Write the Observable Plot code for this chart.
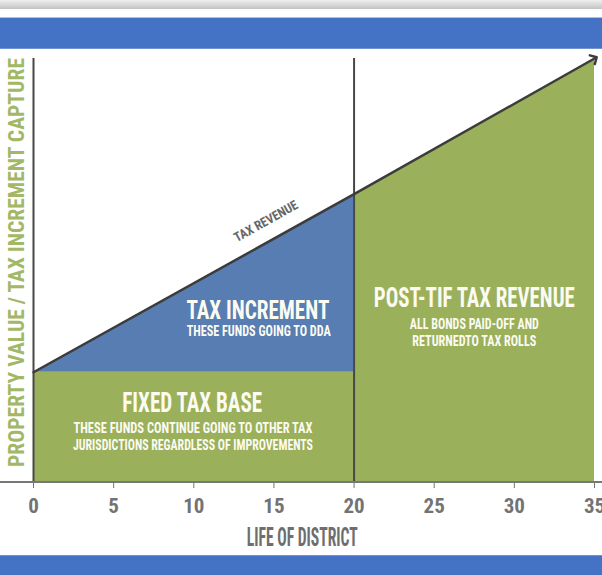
<!DOCTYPE html>
<html><head><meta charset="utf-8">
<script src="https://cdn.jsdelivr.net/npm/d3@7"></script>
<script src="https://cdn.jsdelivr.net/npm/@observablehq/plot@0.6"></script>
<style>
html,body{margin:0;padding:0;background:#fff;width:602px;height:575px;overflow:hidden;}
.chrome{height:9px;background:linear-gradient(#efefef,#c3c3c3);}
.gap{height:8px;}
.bar{background:#4472c4;}
.top{height:32px;border-top:1px solid #a9c0e6;border-bottom:1px solid #6f93d3;box-sizing:border-box;}
.bottom{height:20px;border-top:1px solid #6f93d3;box-sizing:border-box;}
#chart{height:506px;}
#chart svg{display:block;}
</style></head><body>
<div class="chrome"></div><div class="gap"></div><div class="bar top"></div>
<div id="chart"></div>
<div class="bar bottom"></div>
<script>
// ---- data ----
const years = [0, 20, 35];            // life of district breakpoints
const taxRevenue = [26, 68, 100];     // tax revenue line at those years
const baseValue = 26;                 // fixed tax base level
const tifEnd = 20;                    // end of TIF period
const xTicks = [0, 5, 10, 15, 20, 25, 30, 35];
const xTitle = "LIFE OF DISTRICT";
const yTitle = "PROPERTY VALUE / TAX INCREMENT CAPTURE";
const lineLabel = "TAX REVENUE";
const baseTitle = "FIXED TAX BASE";
const baseNotes = ["THESE FUNDS CONTINUE GOING TO OTHER TAX", "JURISDICTIONS REGARDLESS OF IMPROVEMENTS"];
const incTitle = "TAX INCREMENT";
const incNotes = ["THESE FUNDS GOING TO DDA"];
const postTitle = "POST-TIF TAX REVENUE";
const postNotes = ["ALL BONDS PAID-OFF AND", "RETURNEDTO TAX ROLLS"];

// ---- derived tables ----
const linePts = years.map((x, i) => ({x, y: taxRevenue[i]}));
const greenPts = [
  {x: years[0], y: baseValue},
  {x: tifEnd, y: baseValue},
  ...linePts.filter(d => d.x >= tifEnd)
];
const bluePts = linePts.filter(d => d.x <= tifEnd).map(d => ({x: d.x, y1: baseValue, y2: d.y}));

const FONT = "'Liberation Sans Narrow','Roboto Condensed','DejaVu Sans Condensed','Liberation Sans',sans-serif";
const GREEN = "#9bb05a";
const BLUE = "#577db3";
const DARK = "#474747";
const LIGHT = "#fbfbf2";

const fit = new Map();
function label(text, x, y, size, len, opts = {}) {
  fit.set(text, len);
  return Plot.text([{t: text, x, y}], {
    x: "x", y: "y", text: "t", fontSize: size, fontWeight: "bold",
    fontFamily: FONT, fill: LIGHT, textAnchor: "middle", lineAnchor: "bottom", ...opts
  });
}

const plot = Plot.plot({
  width: 602,
  height: 506,
  marginLeft: 33,
  marginRight: 8,
  marginTop: 9,
  marginBottom: 73,
  style: {fontFamily: FONT, fontWeight: "bold", fontSize: "21px", color: "#737373", background: "transparent", overflow: "visible"},
  x: {domain: [0, 35], ticks: xTicks, tickSize: 6, tickPadding: 10, label: null, tickFormat: d => String(d)},
  y: {domain: [0, 100], axis: null},
  marks: [
    Plot.areaY(greenPts, {x: "x", y1: 0, y2: "y", fill: GREEN}),
    Plot.areaY(bluePts, {x: "x", y1: "y1", y2: "y2", fill: BLUE}),
    Plot.ruleX([0, tifEnd], {y1: 0, y2: 100, stroke: DARK, strokeWidth: 2}),
    Plot.line(linePts, {x: "x", y: "y", stroke: "#3c3c3c", strokeWidth: 2.5, markerEnd: "arrow"}),
    label(lineLabel, 14.5, 61.6, 13, 71, {fill: "#666", rotate: -29.1, lineAnchor: "middle"}),
    label(incTitle, 14, 38.6, 25, 143),
    label(incNotes[0], 14.05, 34.6, 15, 144),
    label(postTitle, 27.5, 41.5, 28, 201),
    label(postNotes[0], 27.5, 36.1, 15, 129),
    label(postNotes[1], 27.5, 32.3, 15, 124),
    label(baseTitle, 9.9, 16.7, 27, 140),
    label(baseNotes[0], 9.95, 11.6, 15.5, 239),
    label(baseNotes[1], 9.95, 7.6, 15.5, 240),
    Plot.text([yTitle], {frameAnchor: "left", text: d => d, rotate: -90, dx: -10, dy: -8,
      fontSize: 22, fontWeight: "bold", fontFamily: FONT, fill: "#a3b866", textAnchor: "middle", lineAnchor: "bottom"})
  ]
});
fit.set(yTitle, 409);

const svg = plot.tagName.toLowerCase() === "svg" ? plot : plot.querySelector("svg");
const y0 = plot.scale("y").apply(0);
const root = d3.select(svg);
// full-width baseline
root.append("line").attr("x1", 0).attr("x2", 602).attr("y1", y0).attr("y2", y0)
  .attr("stroke", "#777").attr("stroke-width", 2);
// x-axis title
root.append("text").attr("x", plot.scale("x").apply(16.8)).attr("y", y0 + 64)
  .attr("text-anchor", "middle").attr("fill", "#6e6e6e").attr("font-size", 25)
  .attr("font-family", FONT).attr("font-weight", "bold").text(xTitle);
fit.set(xTitle, 111);

root.selectAll("text").each(function () {
  const L = fit.get(this.textContent);
  if (L) d3.select(this).attr("textLength", L).attr("lengthAdjust", "spacingAndGlyphs");
});
document.getElementById("chart").appendChild(plot);
</script>
</body></html>
